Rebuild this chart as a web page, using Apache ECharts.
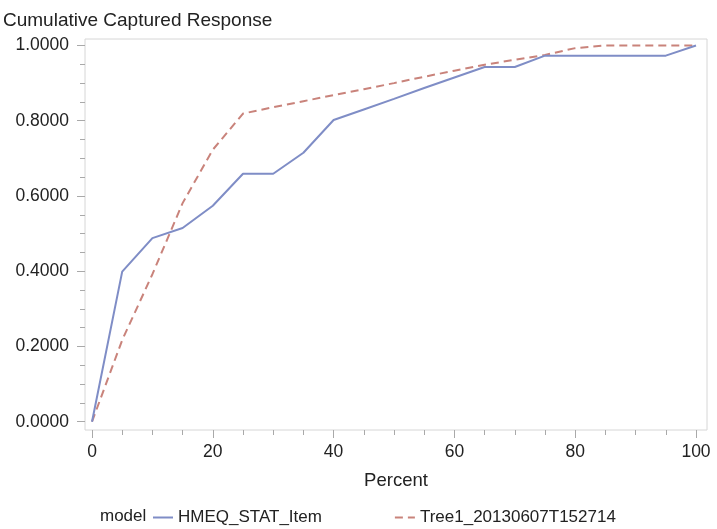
<!DOCTYPE html>
<html>
<head>
<meta charset="utf-8">
<title>Cumulative Captured Response</title>
<script src="https://cdn.jsdelivr.net/npm/echarts@6/dist/echarts.min.js"></script>
<style>
  html, body { margin: 0; padding: 0; background: #fff; }
  #chart { width: 717px; height: 529px; }
</style>
</head>
<body>
<div id="chart"></div>
<script>
// Depth of file, in percent
const percent = [0, 5, 10, 15, 20, 25, 30, 35, 40, 45, 50, 55, 60, 65, 70, 75, 80, 85, 90, 95, 100];

// Cumulative captured response per model
const hmeqStatItem = [0.000, 0.399, 0.488, 0.515, 0.574, 0.659, 0.659, 0.715, 0.802, 0.830, 0.858, 0.887, 0.915, 0.943, 0.943, 0.973, 0.973, 0.973, 0.973, 0.973, 1.000];
const tree1 = [0.000, 0.217, 0.392, 0.581, 0.723, 0.819, 0.836, 0.852, 0.868, 0.884, 0.900, 0.917, 0.933, 0.949, 0.962, 0.975, 0.993, 1.000, 1.000, 1.000, 1.000];

const seriesNames = ['HMEQ_STAT_Item', 'Tree1_20130607T152714'];

// Tick positions
const xMajorTicks = [0, 20, 40, 60, 80, 100];
const xMinorTicks = [5, 10, 15, 25, 30, 35, 45, 50, 55, 65, 70, 75, 85, 90, 95];
const yMajorTicks = [0, 0.2, 0.4, 0.6, 0.8, 1.0];
const yMinorTicks = [0.05, 0.1, 0.15, 0.25, 0.3, 0.35, 0.45, 0.5, 0.55, 0.65, 0.7, 0.75, 0.85, 0.9, 0.95];

const FONT = '"Liberation Sans", Arial, Helvetica, sans-serif';
const TEXT = '#222222';
const TICK = '#a9a9a9';

// The plot frame leaves a little padding around the data range.
const X_MIN = -1.16, X_MAX = 101.82;
const Y_MIN = -0.0221, Y_MAX = 1.0173;

const pairs = (ys) => percent.map((x, i) => [x, ys[i]]);

const chart = echarts.init(document.getElementById('chart'), null, { renderer: 'canvas' });

const baseX = {
  type: 'value',
  min: X_MIN,
  max: X_MAX,
  position: 'bottom',
  offset: 0,
  axisLine: { show: false, onZero: false },
  splitLine: { show: false }
};
const baseY = {
  type: 'value',
  min: Y_MIN,
  max: Y_MAX,
  position: 'left',
  offset: 0,
  axisLine: { show: false, onZero: false },
  splitLine: { show: false }
};

chart.setOption({
  animation: false,
  backgroundColor: '#ffffff',
  textStyle: { fontFamily: FONT, color: TEXT },
  title: {
    text: 'Cumulative Captured Response',
    left: -2,
    top: 6,
    textStyle: { fontFamily: FONT, fontSize: 19, fontWeight: 'normal', color: TEXT }
  },
  graphic: [
    {
      type: 'text',
      left: 100,
      top: 508,
      style: { text: 'model', font: '17px ' + FONT, fill: TEXT }
    }
  ],
  legend: {
    left: 147,
    top: 504,
    itemWidth: 20,
    itemHeight: 10,
    itemGap: 72,
    data: seriesNames,
    itemStyle: { opacity: 0 },
    textStyle: { fontFamily: FONT, fontSize: 17, color: TEXT }
  },
  grid: {
    left: 85,
    right: 10,
    top: 39,
    bottom: 99,
    containLabel: false,
    show: true,
    borderColor: '#d6d6d6',
    borderWidth: 1,
    backgroundColor: 'transparent'
  },
  xAxis: [
    Object.assign({}, baseX, {
      name: 'Percent',
      nameLocation: 'middle',
      nameGap: 41,
      nameTextStyle: { fontFamily: FONT, fontSize: 18.5, color: TEXT },
      axisTick: { show: true, length: 8, customValues: xMajorTicks, lineStyle: { color: TICK, width: 1 } },
      axisLabel: { show: true, margin: 13, customValues: xMajorTicks, fontFamily: FONT, fontSize: 17.5, color: TEXT }
    }),
    Object.assign({}, baseX, {
      axisTick: { show: true, length: 5, customValues: xMinorTicks, lineStyle: { color: TICK, width: 1 } },
      axisLabel: { show: false }
    })
  ],
  yAxis: [
    Object.assign({}, baseY, {
      axisTick: { show: true, length: 8, customValues: yMajorTicks, lineStyle: { color: TICK, width: 1 } },
      axisLabel: {
        show: true,
        margin: 16,
        customValues: yMajorTicks,
        fontFamily: FONT,
        fontSize: 17.5,
        color: TEXT,
        formatter: (v) => v.toFixed(4)
      }
    }),
    Object.assign({}, baseY, {
      axisTick: { show: true, length: 5, customValues: yMinorTicks, lineStyle: { color: TICK, width: 1 } },
      axisLabel: { show: false }
    })
  ],
  series: [
    {
      name: seriesNames[0],
      type: 'line',
      data: pairs(hmeqStatItem),
      symbol: 'none',
      color: '#7f8dc6',
      lineStyle: { color: '#7f8dc6', width: 2 },
      z: 3
    },
    {
      name: seriesNames[1],
      type: 'line',
      data: pairs(tree1),
      symbol: 'none',
      color: '#c9837b',
      lineStyle: { color: '#c9837b', width: 2, type: [8, 5] },
      z: 2
    }
  ]
});
</script>
</body>
</html>
